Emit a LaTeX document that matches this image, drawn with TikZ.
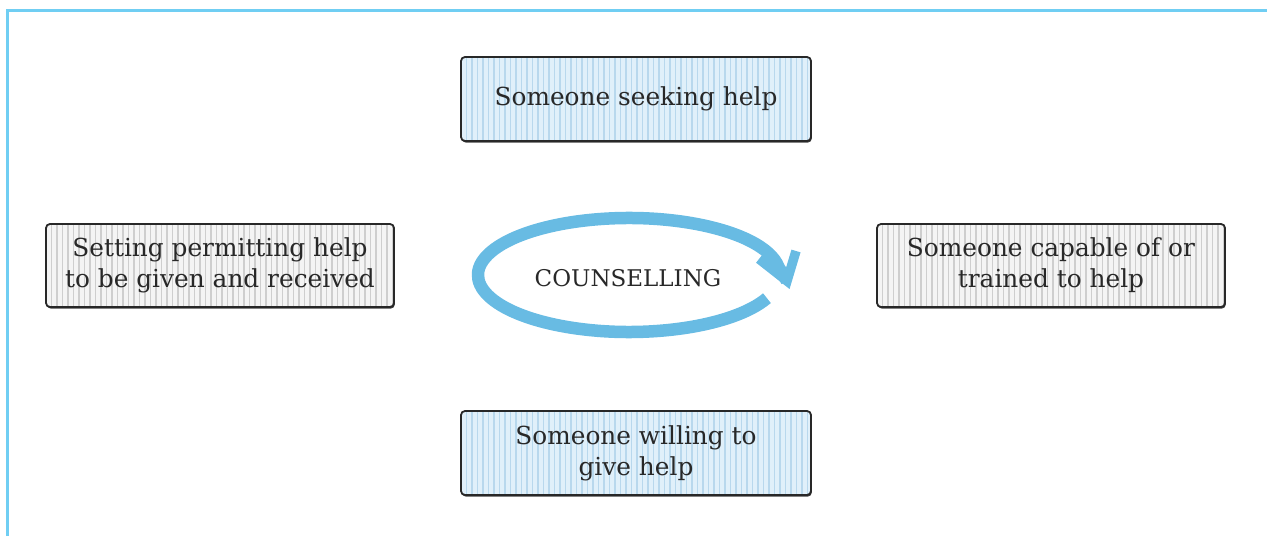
\documentclass[tikz,border=0pt]{standalone}
\usepackage{fontspec}
\setmainfont{DejaVu Serif}
\usetikzlibrary{shadows}
\definecolor{framecol}{RGB}{112,206,243}
\definecolor{loopcol}{RGB}{104,187,227}
\definecolor{boxline}{RGB}{40,40,40}
\definecolor{textcol}{RGB}{40,40,40}
\definecolor{bluefill}{RGB}{224,240,250}
\definecolor{bluestripe}{RGB}{184,216,237}
\definecolor{grayfill}{RGB}{244,244,244}
\definecolor{graystripe}{RGB}{206,206,206}
\begin{document}
\begin{tikzpicture}[x=1pt,y=1pt,
  box/.style={draw=boxline, line width=1.8pt, rounded corners=4pt,
    minimum width=350pt, minimum height=84pt, align=center,
    font=\fontsize{24.8}{31}\selectfont, text=textcol, inner sep=0pt,
    drop shadow={shadow xshift=0.8pt, shadow yshift=-1.6pt, fill=black!75, opacity=1}},
  bluebox/.style={box, fill=bluefill,
    path picture={\foreach \i in {0,...,65}
      \draw[bluestripe, line width=1.5pt]
        ([xshift=\i*5.5pt]path picture bounding box.south west) --
        ([xshift=\i*5.5pt]path picture bounding box.north west);}},
  graybox/.style={box, fill=grayfill, minimum width=348pt, minimum height=83pt,
    path picture={\foreach \i in {0,...,65}
      \draw[graystripe, line width=1.5pt]
        ([xshift=\i*5.5pt]path picture bounding box.south west) --
        ([xshift=\i*5.5pt]path picture bounding box.north west);}},
  frameline/.style={draw=framecol, line width=3pt},
  loopline/.style={draw=loopcol, line width=12.5pt}
]
\useasboundingbox (0,0) rectangle (1267,536);
\draw[frameline] (7.5,0) -- (7.5,525) -- (1267,525);

\node[bluebox] (seek) at (636,437) {Someone seeking help};
\node[graybox] (setting) at (220,270.5) {Setting permitting help\\to be given and received};
\node[graybox] (capable) at (1051,270.5) {Someone capable of or\\trained to help};
\node[bluebox] (willing) at (636,83) {Someone willing to\\give help};

\node[font=\fontsize{23}{26}\selectfont, text=textcol] (couns) at (628,258) {COUNSELLING};

\coordinate (tip) at (787,255);
\coordinate (armL) at (759,277);
\coordinate (armR) at (796,285);
\draw[loopline, line join=round] ([shift={(-24:151 and 57)}]629,261)
  arc[start angle=-24, end angle=-352, x radius=151, y radius=57] -- (tip);
\draw[loopline, line width=9.5pt, line join=miter, line cap=butt] (armL) -- (tip) -- (armR);
\end{tikzpicture}
\end{document}
